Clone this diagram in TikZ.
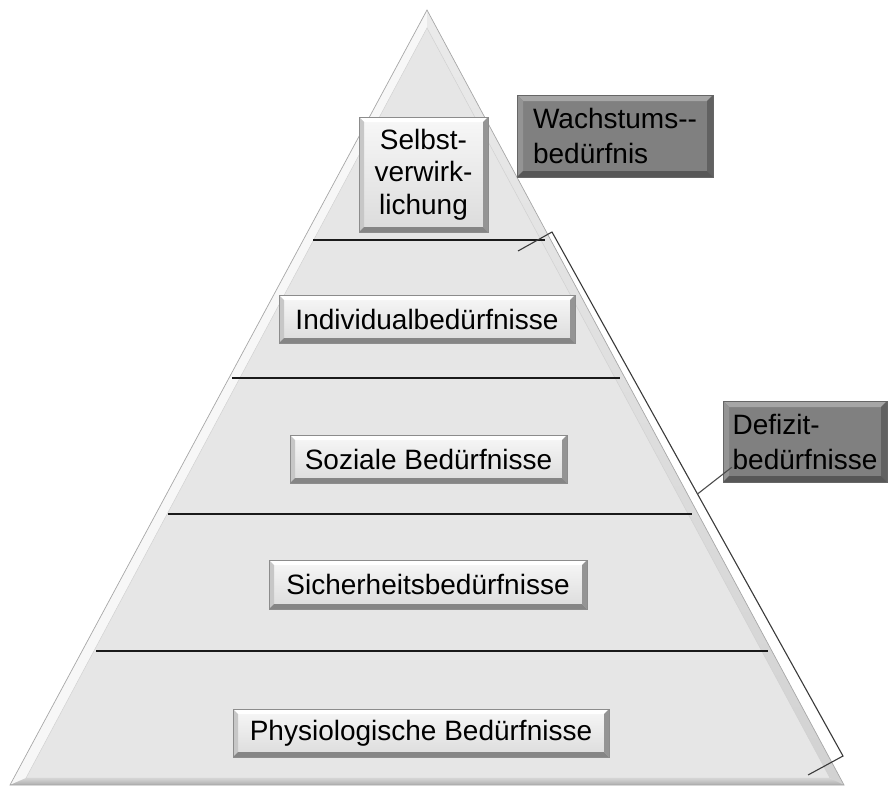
\documentclass[tikz,border=0pt]{standalone}
\usepackage{fontspec}
\setmainfont{Liberation Sans}
\usetikzlibrary{calc}

\definecolor{pyrface}{HTML}{E6E6E6}
\definecolor{pyrlight}{HTML}{F7F7F7}
\definecolor{pyrright}{HTML}{D2D2D2}
\definecolor{pyredge}{HTML}{A8A8A8}
\definecolor{divline}{HTML}{1A1A1A}
\definecolor{bracketcol}{HTML}{3A3A3A}
\definecolor{darkface}{HTML}{808080}

\tikzset{
  % bevelled rectangle: width, top, left, right, bottom colours
  bevel/.style n args={5}{path picture={
    \coordinate (bvA) at (path picture bounding box.north west);
    \coordinate (bvB) at (path picture bounding box.north east);
    \coordinate (bvC) at (path picture bounding box.south east);
    \coordinate (bvD) at (path picture bounding box.south west);
    \fill[#2] (bvA) -- (bvB) -- ([shift={(-#1,-#1)}]bvB) -- ([shift={(#1,-#1)}]bvA) -- cycle;
    \fill[#3] (bvA) -- (bvD) -- ([shift={(#1,#1)}]bvD) -- ([shift={(#1,-#1)}]bvA) -- cycle;
    \fill[#4] (bvB) -- (bvC) -- ([shift={(-#1,#1)}]bvC) -- ([shift={(-#1,-#1)}]bvB) -- cycle;
    \fill[#5] (bvD) -- (bvC) -- ([shift={(-#1,#1)}]bvC) -- ([shift={(#1,#1)}]bvD) -- cycle;
  }},
  levelbox/.style={rectangle, draw=black!45, line width=0.6pt,
    top color=white!97!black, bottom color=black!14,
    bevel={5pt}{white}{black!22}{black!42}{black!48},
    font=\fontsize{28}{32.5}\selectfont, text=black, inner sep=0pt},
  groupbox/.style={rectangle, draw=black!60, line width=0.6pt, fill=darkface,
    bevel={6pt}{black!35}{black!42}{black!62}{black!66},
    font=\fontsize{28}{35}\selectfont, text=black, align=left, inner sep=0pt},
  divider/.style={draw=divline, line width=2pt},
  bracketline/.style={draw=bracketcol, line width=1.1pt, line join=miter},
  conn/.style={draw=black!70, line width=1.1pt},
}

\begin{document}
\begin{tikzpicture}[x=1pt, y=-1pt]
\useasboundingbox (0,0) rectangle (888,787);

% pyramid outline and inner face
\coordinate (apex) at (427,10);
\coordinate (pl) at (10,785);
\coordinate (pr) at (844,785);
\coordinate (iapex) at (427,28);
\coordinate (il) at (26,778);
\coordinate (ir) at (830,778);

\fill[pyrface] (apex) -- (pl) -- (pr) -- cycle;
\fill[pyrlight] (apex) -- (pl) -- (il) -- (iapex) -- cycle;
\shade[top color=black!8, bottom color=pyrright] (apex) -- (pr) -- (ir) -- (iapex) -- cycle;
\shade[top color=black!16, bottom color=black!32] (pl) -- (pr) -- (ir) -- (il) -- cycle;
\draw[pyredge, line width=0.7pt] (apex) -- (pl) -- (pr) -- cycle;
\draw[black!18, line width=0.5pt] (iapex) -- (il) -- (ir) -- cycle;

% level dividers
\coordinate (d1l) at (313,240); \coordinate (d1r) at (545,240);
\coordinate (d2l) at (232,378); \coordinate (d2r) at (620,378);
\coordinate (d3l) at (168,514); \coordinate (d3r) at (692,514);
\coordinate (d4l) at (96,651);  \coordinate (d4r) at (768,651);
\draw[divider] (d1l) -- (d1r);
\draw[divider] (d2l) -- (d2r);
\draw[divider] (d3l) -- (d3r);
\draw[divider] (d4l) -- (d4r);

% bracket along the right flank
\coordinate (btick) at (518,251);
\coordinate (btop) at (552,232);
\coordinate (bbot) at (843,756);
\coordinate (bbtick) at (808,775);
\coordinate (bmid) at ($(btop)!0.5!(bbot)$);
\draw[bracketline] (btick) -- (btop) -- (bbot) -- (bbtick);

% level labels
\node[levelbox, minimum width=129pt, minimum height=115pt, align=center]
  (selbst) at (423.5,174.5) {Selbst-\\verwirk-\\lichung};
\node[levelbox, minimum width=296pt, minimum height=48pt]
  (individual) at (427,319) {Individualbedürfnisse};
\node[levelbox, minimum width=277pt, minimum height=48pt]
  (sozial) at (428.5,459) {Soziale Bedürfnisse};
\node[levelbox, minimum width=318pt, minimum height=49pt]
  (sicherheit) at (428,584.5) {Sicherheitsbedürfnisse};
\node[levelbox, minimum width=376pt, minimum height=48pt]
  (physio) at (421,733) {Physiologische Bedürfnisse};

% need groups
\node[groupbox, minimum width=196pt, minimum height=82pt]
  (wachstum) at (615,136) {Wachstums-{}-\\bedürfnis};
\node[groupbox, minimum width=164pt, minimum height=81pt]
  (defizit) at (805,441.5) {Defizit-\\bedürfnisse};

\draw[conn] (bmid) -- ($(defizit.south west)+(9,-15)$);
\end{tikzpicture}
\end{document}
